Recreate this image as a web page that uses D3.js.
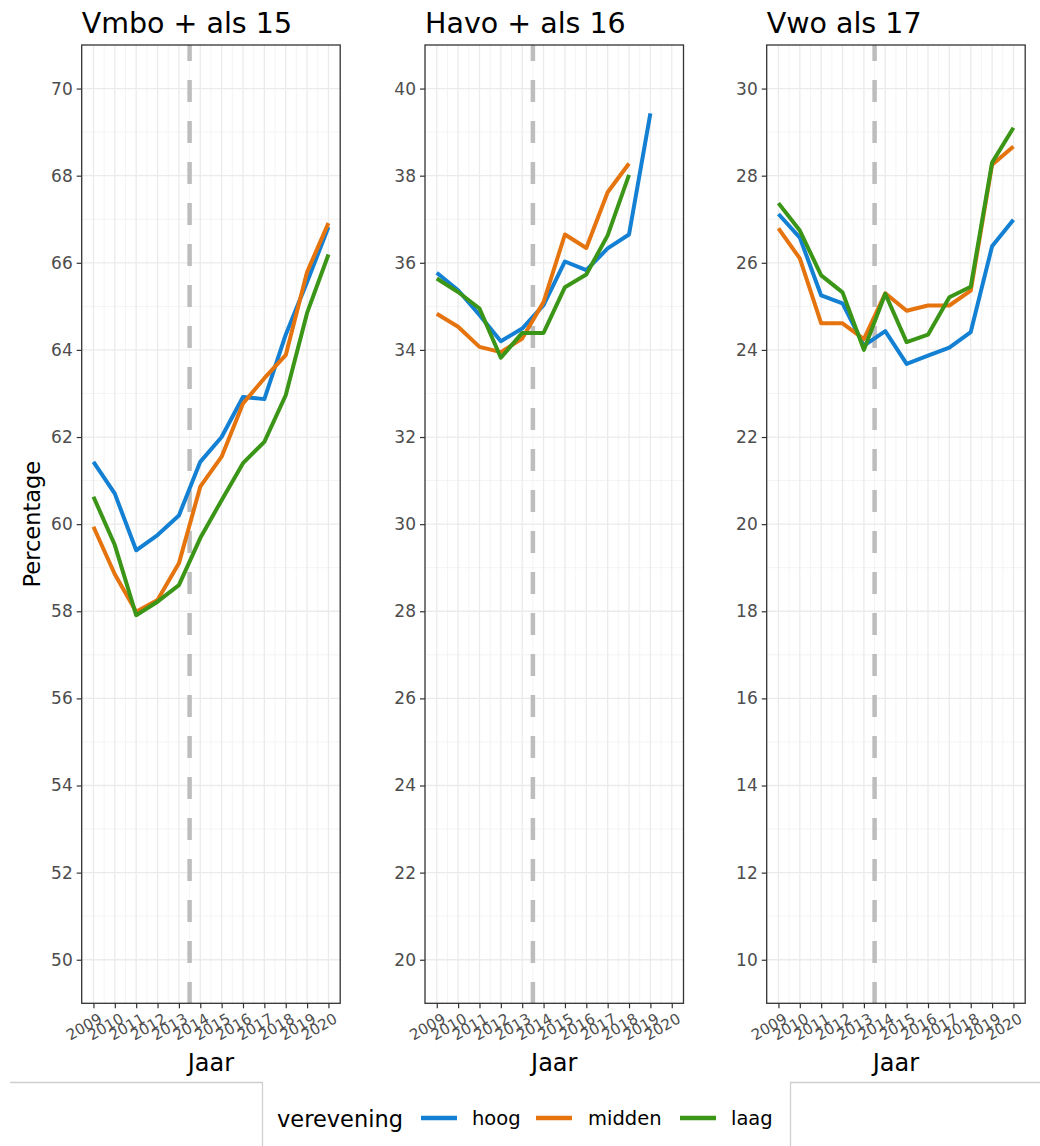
<!DOCTYPE html>
<html>
<head>
<meta charset="utf-8">
<script src="https://cdn.jsdelivr.net/npm/d3@7"></script>
<style>
  html, body { margin: 0; padding: 0; background: #fff; }
  svg { display: block; }
  text { font-family: "DejaVu Sans", Verdana, sans-serif; }
</style>
</head>
<body>
<svg id="chart" width="1040" height="1146"></svg>
<script>
// ---------------- data ----------------
const years = [2009, 2010, 2011, 2012, 2013, 2014, 2015, 2016, 2017, 2018, 2019, 2020];
const seriesNames = ["hoog", "midden", "laag"];
const panelTitles = ["Vmbo + als 15", "Havo + als 16", "Vwo als 17"];

const vmboHoog   = [61.43, 60.70, 59.40, 59.75, 60.20, 61.43, 62.00, 62.92, 62.87, 64.35, 65.56, 66.82];
const vmboMidden = [59.94, 58.85, 57.99, 58.26, 59.10, 60.86, 61.55, 62.77, 63.35, 63.88, 65.79, 66.91];
const vmboLaag   = [60.63, 59.52, 57.91, 58.22, 58.60, 59.68, 60.55, 61.40, 61.89, 62.96, 64.85, 66.19];

const havoHoog   = [35.77, 35.37, 34.80, 34.20, 34.49, 35.03, 36.03, 35.83, 36.33, 36.65, 39.43, null];
const havoMidden = [34.83, 34.53, 34.07, 33.95, 34.26, 35.10, 36.65, 36.34, 37.62, 38.28, null, null];
const havoLaag   = [35.64, 35.33, 34.95, 33.82, 34.39, 34.39, 35.44, 35.73, 36.63, 38.02, null, null];

const vwoHoog    = [27.12, 26.58, 25.25, 25.07, 24.10, 24.43, 23.68, 23.87, 24.05, 24.41, 26.38, 26.99];
const vwoMidden  = [26.79, 26.10, 24.61, 24.61, 24.25, 25.30, 24.90, 25.02, 25.02, 25.36, 28.25, 28.67];
const vwoLaag    = [27.37, 26.74, 25.71, 25.32, 24.00, 25.29, 24.18, 24.35, 25.21, 25.45, 28.30, 29.10];

const yTicksVmbo = [50, 52, 54, 56, 58, 60, 62, 64, 66, 68, 70];
const yTicksHavo = [20, 22, 24, 26, 28, 30, 32, 34, 36, 38, 40];
const yTicksVwo  = [10, 12, 14, 16, 18, 20, 22, 24, 26, 28, 30];

const yDomains = [[49, 71], [19, 41], [9, 31]];
const cutYear = 2013.5;

const panels = [
  { title: panelTitles[0], series: [vmboHoog, vmboMidden, vmboLaag], ticks: yTicksVmbo, domain: yDomains[0] },
  { title: panelTitles[1], series: [havoHoog, havoMidden, havoLaag], ticks: yTicksHavo, domain: yDomains[1] },
  { title: panelTitles[2], series: [vwoHoog, vwoMidden, vwoLaag], ticks: yTicksVwo, domain: yDomains[2] }
];

// ---------------- layout ----------------
const colors = d3.scaleOrdinal().domain(seriesNames).range(["#1380d3", "#e5730e", "#3b9517"]);
const svg = d3.select("#chart");
const panelLefts = [81.7, 425, 766.7];
const panelW = 258.5;
const plotTop = 45, plotBottom = 1003.3;

panels.forEach((p, i) => {
  const left = panelLefts[i];
  const x = d3.scaleLinear().domain([2009 - 0.55, 2020 + 0.55]).range([left, left + panelW]);
  const y = d3.scaleLinear().domain(p.domain).range([plotBottom, plotTop]);
  const g = svg.append("g");

  g.append("rect").attr("x", left).attr("y", plotTop).attr("width", panelW).attr("height", plotBottom - plotTop).attr("fill", "#fff");

  // minor grid
  const minorX = d3.range(2009.5, 2020.5, 1);
  const minorY = d3.range(p.domain[0], p.domain[1] + 0.01, 2).filter(v => v > p.domain[0] && v < p.domain[1]);
  g.selectAll(".mx").data(minorX).join("line")
    .attr("x1", d => x(d)).attr("x2", d => x(d)).attr("y1", plotTop).attr("y2", plotBottom)
    .attr("stroke", "#f3f3f3").attr("stroke-width", 0.9);
  g.selectAll(".my").data(minorY).join("line")
    .attr("x1", left).attr("x2", left + panelW).attr("y1", d => y(d)).attr("y2", d => y(d))
    .attr("stroke", "#f3f3f3").attr("stroke-width", 0.9);
  // major grid
  g.selectAll(".gx").data(years).join("line")
    .attr("x1", d => x(d)).attr("x2", d => x(d)).attr("y1", plotTop).attr("y2", plotBottom)
    .attr("stroke", "#ebebeb").attr("stroke-width", 1.3);
  g.selectAll(".gy").data(p.ticks).join("line")
    .attr("x1", left).attr("x2", left + panelW).attr("y1", d => y(d)).attr("y2", d => y(d))
    .attr("stroke", "#ebebeb").attr("stroke-width", 1.3);

  // dashed vertical line
  g.append("line")
    .attr("x1", x(cutYear)).attr("x2", x(cutYear)).attr("y1", plotTop).attr("y2", plotBottom)
    .attr("stroke", "#bdbdbd").attr("stroke-width", 4.5)
    .attr("stroke-dasharray", "22,19").attr("stroke-dashoffset", 6);

  // lines
  const line = d3.line()
    .defined(d => d[1] !== null)
    .x(d => x(d[0])).y(d => y(d[1]));
  p.series.forEach((vals, si) => {
    g.append("path")
      .datum(years.map((yr, k) => [yr, vals[k]]))
      .attr("d", line)
      .attr("fill", "none")
      .attr("stroke", colors(seriesNames[si]))
      .attr("stroke-width", 4)
      .attr("stroke-linejoin", "round")
      .attr("stroke-linecap", "butt");
  });

  // border
  g.append("rect").attr("x", left).attr("y", plotTop).attr("width", panelW).attr("height", plotBottom - plotTop)
    .attr("fill", "none").attr("stroke", "#333").attr("stroke-width", 1.3);

  // y axis
  const ya = g.append("g").attr("transform", `translate(${left},0)`)
    .call(d3.axisLeft(y).tickValues(p.ticks).tickSize(5).tickPadding(4).tickFormat(d3.format("d")));
  ya.select(".domain").remove();
  ya.selectAll(".tick line").attr("stroke", "#333").attr("stroke-width", 1.2);
  ya.selectAll(".tick text").attr("fill", "#4d4d4d").style("font-size", "17px").style("font-family", "DejaVu Sans, Verdana, sans-serif");

  // x axis
  const xa = g.append("g").attr("transform", `translate(0,${plotBottom})`)
    .call(d3.axisBottom(x).tickValues(years).tickSize(5).tickFormat(d3.format("d")));
  xa.select(".domain").remove();
  xa.selectAll(".tick line").attr("stroke", "#333").attr("stroke-width", 1.2);
  xa.selectAll(".tick text")
    .attr("fill", "#4d4d4d").style("font-size", "15px").style("font-family", "DejaVu Sans, Verdana, sans-serif")
    .attr("text-anchor", "end").attr("y", 0).attr("dy", "0.72em")
    .attr("transform", "translate(4,9) rotate(-30)");

  // title
  g.append("text").attr("x", left).attr("y", 33).text(p.title)
    .attr("fill", "#000").style("font-size", "28.5px");

  // x axis title
  g.append("text").attr("x", left + panelW / 2).attr("y", 1071).attr("text-anchor", "middle")
    .text("Jaar").attr("fill", "#000").style("font-size", "24px");
});

// y axis title
svg.append("text").attr("transform", `translate(40,${(plotTop + plotBottom) / 2}) rotate(-90)`)
  .attr("text-anchor", "middle").text("Percentage").attr("fill", "#000").style("font-size", "22.5px");

// legend frame lines
svg.append("path").attr("d", "M10,1082.5 H262.5 V1146").attr("fill", "none").attr("stroke", "#cfcfcf").attr("stroke-width", 1.3);
svg.append("path").attr("d", "M790.5,1146 V1082.5 H1040").attr("fill", "none").attr("stroke", "#cfcfcf").attr("stroke-width", 1.3);

// legend
const lg = svg.append("g");
lg.append("text").attr("x", 277).attr("y", 1127).text("verevening").attr("fill", "#000").style("font-size", "22.5px");
const keyX = [421, 536, 680];
const labX = [472, 588, 731];
seriesNames.forEach((s, i) => {
  lg.append("line").attr("x1", keyX[i]).attr("x2", keyX[i] + 36).attr("y1", 1118).attr("y2", 1118)
    .attr("stroke", colors(s)).attr("stroke-width", 4.5);
  lg.append("text").attr("x", labX[i]).attr("y", 1125).text(s).attr("fill", "#000").style("font-size", "19.5px");
});
</script>
</body>
</html>
